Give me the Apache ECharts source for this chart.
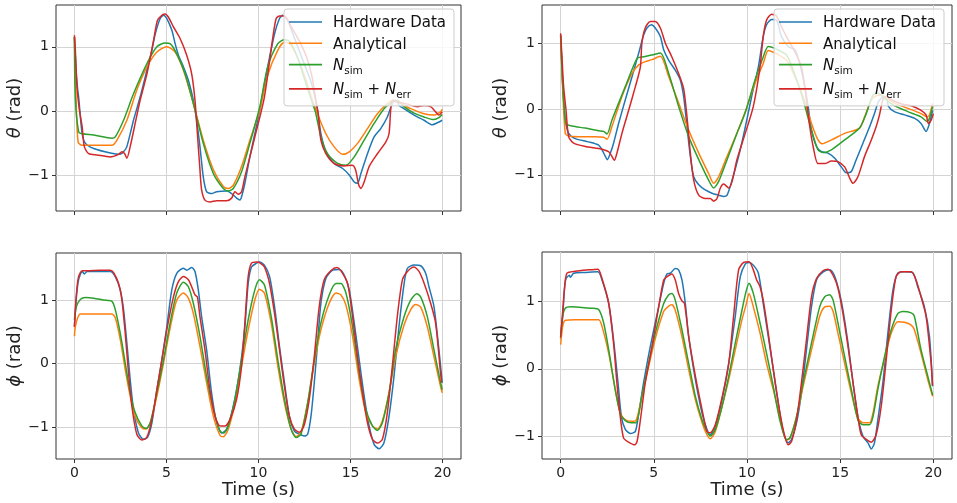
<!DOCTYPE html>
<html>
<head>
<meta charset="utf-8">
<script src="https://cdn.jsdelivr.net/npm/echarts@6/dist/echarts.min.js"></script>
<style>
html,body{margin:0;padding:0;background:#fff;}
#chart{width:957px;height:503px;}
</style>
</head>
<body>
<div id="chart"></div>
<script>
// ---- Data (time in s, angle in rad) ----
const seriesNames = ['Hardware Data', 'Analytical', 'N_sim', 'N_sim + N_err'];
const xTicks = [0, 5, 10, 15, 20];
const yTicks = [-1, 0, 1];

// Top-left: theta
const tlHw = [[0,1.15],[0.1,0.6],[0.18,0.33],[0.23,0.22],[0.42,-0.35],[0.6,-0.5],[1.05,-0.58],[1.95,-0.65],[2.49,-0.67],[2.67,-0.63],[2.85,-0.55],[3.21,-0.14],[3.57,0.22],[3.94,0.64],[4.21,0.95],[4.39,1.2],[4.66,1.44],[4.84,1.49],[5.02,1.44],[5.29,1.26],[5.47,1.05],[5.65,0.87],[5.92,0.69],[6.19,0.48],[6.46,0.17],[6.64,-0.14],[6.82,-0.55],[7.0,-1.02],[7.18,-1.25],[7.45,-1.28],[7.73,-1.25],[8.27,-1.24],[8.54,-1.28],[8.81,-1.35],[8.99,-1.38],[9.08,-1.33],[9.26,-1.12],[9.53,-0.71],[9.8,-0.35],[10.07,0.02],[10.5,0.69],[10.87,1.2],[11.14,1.44],[11.32,1.49],[11.6,1.4],[12.0,1.1],[12.4,0.8],[12.8,0.5],[13.0,0.3],[13.2,0.02],[13.39,-0.35],[13.66,-0.63],[14.1,-0.81],[14.57,-0.89],[14.93,-0.99],[15.2,-1.1],[15.38,-1.12],[15.56,-0.97],[15.92,-0.66],[16.28,-0.4],[16.64,-0.27],[17.0,-0.09],[17.27,0.12],[17.45,0.17],[17.64,0.09],[17.9,0.04],[18.45,-0.06],[18.99,-0.14],[19.44,-0.21],[19.71,-0.18],[19.98,-0.14]];
const tlAn = [[0,1.15],[0.08,0.3],[0.2,-0.48],[0.42,-0.53],[1.05,-0.53],[2.04,-0.53],[2.31,-0.45],[2.85,-0.14],[3.39,0.33],[3.94,0.69],[4.48,0.92],[5.02,1.0],[5.47,0.92],[5.92,0.64],[6.46,0.12],[7.0,-0.45],[7.55,-0.91],[8.09,-1.17],[8.36,-1.2],[8.63,-1.15],[9.08,-0.86],[9.53,-0.45],[10.07,0.02],[10.5,0.56],[11.05,0.95],[11.41,1.07],[11.7,1.05],[12.1,0.85],[12.5,0.55],[12.9,0.2],[13.2,-0.04],[13.66,-0.35],[14.1,-0.55],[14.57,-0.67],[14.93,-0.63],[15.38,-0.5],[15.92,-0.27],[16.46,-0.04],[17.0,0.12],[17.36,0.17],[17.72,0.12],[18.27,0.04],[18.99,-0.04],[19.53,-0.06],[19.89,-0.01],[19.98,0.03]];
const tlNs = [[0,1.15],[0.05,0.2],[0.23,-0.32],[0.42,-0.35],[1.05,-0.37],[2.04,-0.42],[2.22,-0.4],[2.67,-0.14],[3.21,0.27],[3.94,0.74],[4.48,1.0],[4.93,1.06],[5.2,1.05],[5.56,0.89],[6.01,0.58],[6.46,0.12],[7.0,-0.5],[7.55,-0.97],[8.09,-1.2],[8.36,-1.24],[8.63,-1.2],[9.08,-0.94],[9.53,-0.5],[10.07,0.07],[10.5,0.69],[11.05,1.05],[11.41,1.11],[11.7,1.08],[12.1,0.85],[12.5,0.5],[12.9,0.15],[13.1,-0.02],[13.39,-0.4],[13.75,-0.66],[14.3,-0.81],[14.75,-0.84],[15.2,-0.71],[15.74,-0.45],[16.28,-0.19],[16.82,0.04],[17.27,0.14],[17.54,0.17],[17.9,0.07],[18.45,-0.03],[18.99,-0.09],[19.53,-0.13],[19.8,-0.1],[19.98,-0.05]];
const tlNe = [[0,1.18],[0.05,0.95],[0.14,0.38],[0.27,0.02],[0.42,-0.24],[0.54,-0.55],[0.78,-0.66],[1.23,-0.68],[1.95,-0.71],[2.4,-0.67],[2.58,-0.63],[2.73,-0.66],[2.85,-0.73],[3.03,-0.55],[3.3,-0.19],[3.57,0.17],[3.94,0.58],[4.3,1.1],[4.51,1.41],[4.75,1.49],[4.93,1.51],[5.11,1.46],[5.38,1.31],[5.74,1.13],[6.1,0.87],[6.37,0.58],[6.55,0.17],[6.68,-0.35],[6.82,-0.91],[6.91,-1.22],[7.09,-1.38],[7.36,-1.41],[7.73,-1.39],[8.27,-1.39],[8.54,-1.35],[8.72,-1.25],[8.9,-1.29],[9.08,-1.25],[9.26,-1.02],[9.53,-0.71],[9.8,-0.4],[10.32,0.22],[10.78,1.15],[10.96,1.44],[11.14,1.48],[11.41,1.48],[11.8,1.3],[12.2,1.1],[12.6,0.85],[12.9,0.55],[13.1,0.2],[13.25,-0.05],[13.39,-0.45],[13.66,-0.66],[14.1,-0.81],[14.64,-0.85],[15.09,-0.84],[15.27,-0.91],[15.45,-1.15],[15.56,-1.2],[15.74,-1.1],[16.01,-0.86],[16.46,-0.66],[16.91,-0.48],[17.09,-0.35],[17.18,0.02],[17.27,0.17],[17.54,0.14],[18.08,0.11],[18.63,0.07],[18.99,0.09],[19.35,0.07],[19.62,-0.01],[19.8,-0.06],[19.98,-0.01]];

// Top-right: theta
const trHw = [[0,1.12],[0.11,0.39],[0.16,0.14],[0.25,-0.17],[0.43,-0.37],[0.79,-0.45],[1.5,-0.5],[2.04,-0.55],[2.22,-0.62],[2.4,-0.72],[2.5,-0.77],[2.67,-0.67],[2.84,-0.52],[3.11,-0.22],[3.47,0.14],[3.83,0.49],[4.19,0.85],[4.45,1.12],[4.63,1.23],[4.87,1.28],[5.08,1.23],[5.35,1.1],[5.53,0.9],[5.8,0.74],[6.15,0.59],[6.42,0.44],[6.6,0.19],[6.78,-0.27],[6.96,-0.72],[7.14,-1.03],[7.41,-1.15],[7.76,-1.23],[8.12,-1.28],[8.48,-1.31],[8.75,-1.33],[8.93,-1.31],[9.2,-1.08],[9.55,-0.72],[9.89,-0.3],[10.25,0.19],[10.61,0.64],[10.87,1.1],[11.05,1.28],[11.32,1.36],[11.59,1.35],[11.85,1.1],[12.21,0.95],[12.57,0.9],[12.83,0.69],[13.1,0.34],[13.28,0.04],[13.46,-0.32],[13.73,-0.57],[14.0,-0.65],[14.35,-0.67],[14.71,-0.75],[15.06,-0.88],[15.33,-0.97],[15.6,-0.95],[15.86,-0.77],[16.22,-0.52],[16.58,-0.27],[16.84,-0.07],[17.02,0.09],[17.2,0.16],[17.47,0.19],[17.59,0.04],[17.91,-0.04],[18.45,-0.09],[18.98,-0.14],[19.34,-0.22],[19.61,-0.34],[19.79,-0.22],[19.96,-0.02]];
const trAn = [[0,1.1],[0.11,0.3],[0.25,-0.37],[0.43,-0.41],[0.97,-0.42],[1.86,-0.42],[2.31,-0.43],[2.49,-0.46],[2.75,-0.27],[3.29,0.19],[3.83,0.54],[4.19,0.67],[4.54,0.72],[4.9,0.75],[5.35,0.8],[5.8,0.49],[6.33,0.09],[6.87,-0.32],[7.41,-0.67],[7.94,-0.98],[8.21,-1.13],[8.48,-1.03],[8.93,-0.72],[9.46,-0.37],[9.91,-0.04],[10.43,0.39],[10.87,0.69],[11.14,0.89],[11.5,0.85],[12.12,0.74],[12.57,0.49],[13.01,0.19],[13.46,-0.22],[13.81,-0.47],[14.03,-0.53],[14.53,-0.47],[15.24,-0.37],[16.04,-0.29],[16.31,-0.12],[16.67,0.14],[17.02,0.21],[17.38,0.19],[17.91,0.09],[18.63,0.01],[19.34,-0.07],[19.66,-0.12],[19.79,-0.09],[19.96,0.09]];
const trNs = [[0,1.12],[0.07,0.6],[0.16,0.14],[0.29,-0.22],[0.61,-0.26],[1.32,-0.29],[2.04,-0.33],[2.31,-0.34],[2.49,-0.38],[2.75,-0.17],[3.47,0.34],[4.1,0.77],[4.36,0.79],[4.9,0.82],[5.35,0.85],[5.8,0.54],[6.33,0.04],[6.87,-0.42],[7.41,-0.77],[7.94,-1.08],[8.21,-1.2],[8.48,-1.1],[8.93,-0.77],[9.46,-0.37],[9.91,-0.05],[10.43,0.44],[10.87,0.79],[11.14,0.95],[11.5,0.92],[12.12,0.82],[12.57,0.52],[13.01,0.14],[13.46,-0.32],[13.81,-0.62],[14.09,-0.66],[14.53,-0.62],[15.24,-0.47],[16.04,-0.29],[16.4,-0.07],[16.76,0.21],[17.02,0.24],[17.38,0.16],[17.91,0.05],[18.63,-0.04],[19.34,-0.12],[19.66,-0.19],[19.79,-0.14],[19.96,0.04]];
const trNe = [[0,1.15],[0.07,0.8],[0.16,0.34],[0.29,-0.02],[0.43,-0.42],[0.7,-0.52],[1.32,-0.57],[2.04,-0.6],[2.31,-0.62],[2.58,-0.65],[2.75,-0.72],[2.88,-0.78],[3.02,-0.67],[3.29,-0.37],[3.65,-0.02],[4.01,0.34],[4.28,0.64],[4.36,1.0],[4.54,1.23],[4.81,1.33],[5.08,1.33],[5.35,1.23],[5.62,1.0],[5.97,0.79],[6.33,0.54],[6.6,0.31],[6.78,-0.12],[6.96,-0.67],[7.14,-1.08],[7.41,-1.31],[7.76,-1.36],[8.03,-1.36],[8.21,-1.4],[8.39,-1.36],[8.57,-1.2],[8.75,-1.14],[9.02,-1.2],[9.2,-1.1],[9.46,-0.77],[9.85,-0.42],[10.34,0.04],[10.7,0.64],[10.87,1.1],[11.05,1.35],[11.32,1.44],[11.59,1.41],[11.85,1.25],[12.21,1.05],[12.57,0.87],[12.92,0.64],[13.1,0.34],[13.37,-0.27],[13.55,-0.57],[13.81,-0.83],[14.17,-0.83],[14.53,-0.79],[14.88,-0.8],[15.24,-0.88],[15.51,-1.05],[15.69,-1.13],[15.95,-1.03],[16.31,-0.72],[16.67,-0.47],[16.93,-0.27],[17.11,-0.09],[17.29,0.14],[17.47,0.19],[17.74,0.14],[18.27,0.08],[18.81,0.05],[19.34,-0.02],[19.61,-0.09],[19.73,-0.22],[19.88,-0.17],[20.0,-0.07]];

// Bottom-left: phi
const blHw = [[0,0.58],[0.11,1.05],[0.23,1.32],[0.42,1.45],[0.54,1.41],[0.69,1.45],[1.41,1.45],[1.95,1.45],[2.22,1.37],[2.49,1.16],[2.67,0.85],[2.85,0.32],[3.03,-0.25],[3.21,-0.72],[3.48,-1.09],[3.75,-1.19],[3.97,-1.16],[4.21,-0.93],[4.48,-0.41],[4.75,0.06],[5.02,0.58],[5.29,1.16],[5.56,1.42],[5.92,1.5],[6.1,1.47],[6.37,1.51],[6.55,1.45],[6.73,1.16],[6.91,0.74],[7.18,0.22],[7.45,-0.46],[7.73,-0.93],[8.0,-1.09],[8.27,-1.03],[8.63,-0.67],[8.99,-0.09],[9.26,0.58],[9.44,1.26],[9.62,1.52],[9.89,1.58],[10.05,1.6],[10.32,1.55],[10.6,1.37],[10.87,0.9],[11.14,0.27],[11.41,-0.3],[11.68,-0.83],[11.95,-1.06],[12.22,-1.11],[12.49,-1.14],[12.67,-1.11],[12.85,-0.83],[13.03,-0.3],[13.21,0.32],[13.39,0.95],[13.66,1.34],[14.03,1.47],[14.39,1.48],[14.66,1.39],[14.93,1.16],[15.2,0.64],[15.47,0.06],[15.74,-0.51],[16.01,-0.98],[16.28,-1.27],[16.55,-1.34],[16.82,-1.24],[17.09,-0.83],[17.36,-0.2],[17.63,0.58],[17.91,1.26],[18.09,1.5],[18.45,1.55],[18.81,1.54],[19.08,1.42],[19.26,1.21],[19.53,0.9],[19.8,0.22],[19.98,-0.3]];
const blAn = [[0,0.43],[0.05,0.58],[0.18,0.72],[0.32,0.78],[1.05,0.78],[2.04,0.78],[2.22,0.72],[2.49,0.38],[2.76,-0.09],[3.03,-0.51],[3.3,-0.83],[3.66,-1.01],[3.9,-1.03],[4.12,-0.93],[4.48,-0.51],[4.84,0.01],[5.2,0.56],[5.56,1.0],[5.92,1.11],[6.19,1.03],[6.46,0.79],[6.82,0.27],[7.18,-0.3],[7.55,-0.83],[7.91,-1.13],[8.09,-1.15],[8.36,-1.03],[8.72,-0.62],[9.08,-0.04],[9.44,0.53],[9.8,1.0],[10.05,1.17],[10.32,1.11],[10.69,0.64],[11.05,-0.04],[11.41,-0.62],[11.77,-1.03],[12.04,-1.15],[12.31,-1.08],[12.67,-0.62],[13.03,0.01],[13.39,0.53],[13.84,0.95],[14.21,1.11],[14.48,1.08],[14.75,0.92],[15.11,0.43],[15.47,-0.25],[15.83,-0.77],[16.19,-0.98],[16.46,-1.03],[16.73,-0.9],[17.09,-0.46],[17.45,0.11],[17.91,0.61],[18.27,0.85],[18.54,0.93],[18.81,0.89],[19.17,0.58],[19.53,0.11],[19.89,-0.36],[19.98,-0.46]];
const blNs = [[0,0.69],[0.11,0.9],[0.32,1.01],[0.6,1.04],[1.05,1.03],[1.59,1.0],[2.04,0.98],[2.22,0.85],[2.49,0.48],[2.76,0.01],[3.03,-0.46],[3.3,-0.77],[3.66,-0.98],[3.9,-1.02],[4.12,-0.93],[4.48,-0.46],[4.84,0.06],[5.2,0.64],[5.56,1.11],[5.92,1.28],[6.19,1.21],[6.46,0.95],[6.82,0.43],[7.18,-0.2],[7.55,-0.72],[7.91,-1.06],[8.12,-1.09],[8.36,-0.98],[8.72,-0.56],[9.08,0.06],[9.44,0.69],[9.8,1.16],[10.05,1.32],[10.32,1.24],[10.69,0.74],[11.05,0.06],[11.41,-0.56],[11.77,-1.03],[12.04,-1.16],[12.31,-1.11],[12.67,-0.62],[13.03,0.06],[13.39,0.64],[13.84,1.08],[14.21,1.26],[14.48,1.26],[14.75,1.11],[15.11,0.58],[15.47,-0.15],[15.83,-0.72],[16.19,-0.98],[16.46,-1.05],[16.73,-0.93],[17.09,-0.46],[17.45,0.22],[17.91,0.74],[18.27,1.0],[18.6,1.1],[18.81,1.05],[19.17,0.74],[19.53,0.22],[19.89,-0.3],[19.98,-0.41]];
const blNe = [[0,0.58],[0.11,1.1],[0.23,1.37],[0.42,1.46],[0.69,1.46],[1.41,1.47],[1.95,1.47],[2.13,1.43],[2.4,1.26],[2.58,1.0],[2.76,0.48],[2.94,-0.15],[3.12,-0.67],[3.39,-1.11],[3.66,-1.2],[3.93,-1.16],[4.21,-0.88],[4.48,-0.41],[4.75,0.06],[5.02,0.53],[5.38,1.05],[5.65,1.29],[5.92,1.37],[6.19,1.32],[6.37,1.21],[6.55,1.08],[6.68,1.05],[6.82,0.74],[7.09,0.22],[7.36,-0.41],[7.64,-0.83],[7.91,-0.98],[8.18,-0.98],[8.45,-0.88],[8.81,-0.56],[9.08,-0.04],[9.26,0.64],[9.44,1.37],[9.62,1.58],[9.89,1.6],[10.05,1.59],[10.32,1.52],[10.6,1.26],[10.87,0.79],[11.14,0.22],[11.41,-0.36],[11.68,-0.83],[11.95,-1.03],[12.22,-1.08],[12.49,-0.96],[12.76,-0.56],[13.03,0.11],[13.3,0.9],[13.57,1.32],[13.93,1.46],[14.26,1.51],[14.48,1.46],[14.84,1.26],[15.11,0.74],[15.38,0.11],[15.65,-0.46],[15.92,-0.93],[16.19,-1.19],[16.46,-1.25],[16.73,-1.19],[17.0,-0.77],[17.27,-0.04],[17.54,0.74],[17.82,1.32],[18.09,1.45],[18.45,1.52],[18.72,1.45],[19.0,1.26],[19.35,0.95],[19.62,0.64],[19.89,-0.15],[19.95,-0.3]];

// Bottom-right: phi
const brHw = [[0,0.45],[0.11,0.78],[0.21,1.2],[0.29,1.34],[0.47,1.39],[0.52,1.36],[0.7,1.42],[1.32,1.43],[2.0,1.44],[2.22,1.32],[2.58,0.97],[2.84,0.43],[3.08,-0.21],[3.26,-0.71],[3.47,-0.9],[3.74,-0.96],[4.01,-0.93],[4.19,-0.66],[4.45,-0.21],[4.81,0.33],[5.26,0.92],[5.53,1.27],[5.71,1.41],[5.89,1.42],[6.15,1.49],[6.33,1.47],[6.51,1.32],[6.69,0.97],[6.87,0.48],[7.23,-0.16],[7.59,-0.66],[7.85,-0.9],[8.03,-0.98],[8.3,-0.85],[8.66,-0.46],[9.02,0.08],[9.37,0.78],[9.64,1.37],[9.91,1.56],[10.11,1.58],[10.34,1.54],[10.61,1.42],[10.87,0.97],[11.14,0.48],[11.41,-0.01],[11.68,-0.51],[11.94,-0.93],[12.21,-1.1],[12.39,-1.05],[12.66,-0.8],[12.92,-0.36],[13.19,0.28],[13.46,0.92],[13.73,1.32],[14.09,1.44],[14.44,1.47],[14.71,1.37],[14.97,1.12],[15.15,0.87],[15.42,0.38],[15.69,-0.21],[15.95,-0.71],[16.22,-1.0],[16.49,-1.1],[16.67,-1.19],[16.84,-1.1],[17.02,-0.76],[17.29,-0.21],[17.56,0.53],[17.83,1.17],[18.09,1.42],[18.45,1.44],[18.89,1.43],[19.16,1.22],[19.52,0.92],[19.79,0.48],[19.96,-0.26]];
const brAn = [[0,0.36],[0.11,0.63],[0.25,0.72],[0.79,0.73],[2.04,0.73],[2.22,0.63],[2.58,0.23],[2.93,-0.31],[3.2,-0.66],[3.47,-0.76],[3.79,-0.78],[4.04,-0.77],[4.36,-0.41],[4.72,0.03],[5.08,0.45],[5.53,0.85],[5.8,0.93],[5.97,0.95],[6.15,0.87],[6.51,0.48],[6.87,-0.01],[7.23,-0.46],[7.59,-0.8],[7.85,-0.98],[8.03,-1.04],[8.3,-0.93],[8.66,-0.56],[9.02,-0.16],[9.37,0.28],[9.73,0.73],[9.95,0.95],[10.11,1.12],[10.34,0.92],[10.7,0.53],[11.05,0.08],[11.41,-0.31],[11.76,-0.71],[12.12,-1.06],[12.3,-1.03],[12.66,-0.71],[13.01,-0.26],[13.46,0.28],[13.9,0.78],[14.17,0.92],[14.44,0.93],[14.62,0.85],[14.88,0.53],[15.24,0.08],[15.6,-0.36],[15.95,-0.73],[16.22,-0.8],[16.58,-0.8],[16.76,-0.66],[17.02,-0.26],[17.38,0.15],[17.74,0.53],[18.09,0.7],[18.45,0.69],[18.81,0.65],[18.98,0.58],[19.34,0.23],[19.7,-0.16],[19.96,-0.41]];
const brNs = [[0,0.48],[0.11,0.78],[0.25,0.9],[0.52,0.92],[1.14,0.91],[1.68,0.9],[2.04,0.88],[2.31,0.68],[2.58,0.28],[2.93,-0.31],[3.2,-0.66],[3.47,-0.77],[3.79,-0.8],[4.04,-0.8],[4.36,-0.41],[4.72,0.08],[5.08,0.53],[5.53,0.97],[5.8,1.1],[5.97,1.12],[6.15,1.02],[6.51,0.58],[6.87,0.08],[7.23,-0.41],[7.59,-0.76],[7.85,-0.93],[8.03,-1.0],[8.3,-0.9],[8.66,-0.56],[9.02,-0.11],[9.37,0.38],[9.73,0.87],[9.95,1.15],[10.11,1.27],[10.34,1.12],[10.7,0.68],[11.05,0.23],[11.41,-0.26],[11.76,-0.76],[12.12,-1.05],[12.3,-1.03],[12.66,-0.71],[13.01,-0.21],[13.46,0.38],[13.9,0.92],[14.17,1.07],[14.44,1.1],[14.62,1.02],[14.88,0.68],[15.24,0.18],[15.6,-0.31],[15.95,-0.76],[16.22,-0.83],[16.58,-0.83],[16.76,-0.71],[17.02,-0.31],[17.38,0.18],[17.74,0.58],[18.09,0.82],[18.36,0.85],[18.81,0.83],[18.98,0.78],[19.34,0.28],[19.7,-0.11],[19.96,-0.39]];
const brNe = [[0,0.47],[0.11,0.85],[0.21,1.2],[0.34,1.42],[0.79,1.45],[1.5,1.47],[2.0,1.48],[2.22,1.34],[2.58,0.97],[2.84,0.38],[3.02,-0.21],[3.2,-0.71],[3.38,-1.03],[3.65,-1.09],[3.97,-1.13],[4.1,-1.08],[4.28,-0.76],[4.54,-0.21],[4.9,0.33],[5.26,0.92],[5.53,1.32],[5.71,1.37],[5.97,1.41],[6.15,1.32],[6.33,1.12],[6.51,1.01],[6.65,0.97],[6.87,0.48],[7.23,-0.11],[7.59,-0.61],[7.85,-0.93],[8.03,-0.95],[8.3,-0.83],[8.66,-0.43],[9.02,0.08],[9.28,0.78],[9.55,1.47],[9.82,1.58],[10.11,1.59],[10.34,1.47],[10.52,1.32],[10.7,1.22],[10.87,1.02],[11.14,0.53],[11.41,-0.01],[11.68,-0.51],[11.94,-0.9],[12.21,-1.13],[12.39,-1.08],[12.66,-0.76],[12.92,-0.21],[13.19,0.43],[13.46,1.07],[13.73,1.34],[14.09,1.46],[14.35,1.48],[14.62,1.39],[14.88,1.2],[15.15,0.82],[15.42,0.33],[15.69,-0.21],[15.95,-0.71],[16.13,-0.98],[16.4,-1.05],[16.67,-1.09],[16.93,-0.98],[17.2,-0.56],[17.47,0.13],[17.74,0.87],[18.0,1.37],[18.27,1.44],[18.81,1.44],[19.07,1.32],[19.34,1.07],[19.61,0.78],[19.88,0.08],[19.95,-0.25]];

// ---- Layout / style ----
const FONT = 'DejaVu Sans';
const colors = ['#1f77b4', '#ff7f0e', '#2ca02c', '#d62728'];
const panels = [
  { left: 56,  top: 5,   width: 405, height: 206, yMin: -1.55, yMax: 1.65, yName: '{i|θ} (rad)', xLabels: false, data: [tlHw, tlAn, tlNs, tlNe] },
  { left: 542, top: 5,   width: 410, height: 206, yMin: -1.55, yMax: 1.58, yName: '{i|θ} (rad)', xLabels: false, data: [trHw, trAn, trNs, trNe] },
  { left: 56,  top: 253, width: 405, height: 206, yMin: -1.5,  yMax: 1.74, yName: '{i|ϕ} (rad)', xLabels: true,  data: [blHw, blAn, blNs, blNe] },
  { left: 542, top: 252, width: 410, height: 207, yMin: -1.34, yMax: 1.735, yName: '{i|ϕ} (rad)', xLabels: true, data: [brHw, brAn, brNs, brNe] }
];

const fmtY = v => (v < 0 ? '\u2212' + Math.abs(v) : String(v));

const grid = [], xAxis = [], yAxis = [], series = [];
panels.forEach((p, i) => {
  grid.push({ left: p.left, top: p.top, width: p.width, height: p.height, show: true,
    borderColor: '#333333', borderWidth: 1, backgroundColor: 'transparent', containLabel: false });
  xAxis.push({
    type: 'value', gridIndex: i, min: -1, max: 21,
    axisLine: { show: false, onZero: false },
    axisTick: { show: true, inside: false, length: 4, customValues: xTicks, lineStyle: { color: '#333333' } },
    axisLabel: { show: p.xLabels, customValues: xTicks, margin: 7, fontFamily: FONT, fontSize: 14, color: '#222' },
    splitLine: { show: true, lineStyle: { color: '#d4d4d4', width: 1 } },
    name: p.xLabels ? 'Time (s)' : '', nameLocation: 'middle', nameGap: 21,
    nameTextStyle: { fontFamily: FONT, fontSize: 18, color: '#222' }
  });
  yAxis.push({
    type: 'value', gridIndex: i, min: p.yMin, max: p.yMax,
    axisLine: { show: false, onZero: false },
    axisTick: { show: true, inside: false, length: 4, customValues: yTicks, lineStyle: { color: '#333333' } },
    axisLabel: { show: true, customValues: yTicks, margin: 7, fontFamily: FONT, fontSize: 14, color: '#222', formatter: fmtY },
    splitLine: { show: true, lineStyle: { color: '#d4d4d4', width: 1 } },
    name: p.yName, nameLocation: 'middle', nameGap: 30, nameRotate: 90,
    nameTextStyle: { fontFamily: FONT, fontSize: 18, color: '#222',
      rich: { i: { fontFamily: FONT, fontStyle: 'italic', fontSize: 18, color: '#222' } } }
  });
  p.data.forEach((d, k) => {
    series.push({
      type: 'line', name: seriesNames[k], xAxisIndex: i, yAxisIndex: i, data: d,
      symbol: 'none', showSymbol: false, smooth: 0.25,
      lineStyle: { color: colors[k], width: 1.5 }, itemStyle: { color: colors[k] },
      emphasis: { disabled: true }, animation: false, clip: true, z: 2 + k * 0.01
    });
  });
});

const legendFormatter = name => {
  if (name === 'N_sim') return '{n|N}{s|sim}';
  if (name === 'N_sim + N_err') return '{n|N}{s|sim}{p| + }{n|N}{s|err}';
  return '{p|' + name + '}';
};
const legendRich = {
  p: { fontFamily: FONT, fontSize: 15, color: '#111', lineHeight: 18, verticalAlign: 'bottom' },
  n: { fontFamily: FONT, fontStyle: 'italic', fontSize: 15, color: '#111', lineHeight: 18, verticalAlign: 'bottom' },
  s: { fontFamily: FONT, fontSize: 10.5, color: '#111', lineHeight: 11, verticalAlign: 'bottom', padding: [0, 0, -3, 0] }
};
const makeLegend = (left) => ({
  data: seriesNames, orient: 'vertical', left: left, top: 9,
  icon: 'rect', itemWidth: 33, itemHeight: 1.6, itemGap: 6.3,
  padding: [7, 8, 5, 5],
  backgroundColor: 'rgba(255,255,255,0.8)', borderColor: '#cccccc', borderWidth: 1, borderRadius: 3,
  selectedMode: false, formatter: legendFormatter,
  textStyle: { fontFamily: FONT, fontSize: 15, color: '#111', padding: [0, 0, 0, 6], rich: legendRich },
  z: 10
});

const chart = echarts.init(document.getElementById('chart'), null, { renderer: 'canvas' });
chart.setOption({
  animation: false,
  backgroundColor: '#ffffff',
  grid, xAxis, yAxis, series,
  legend: [makeLegend(284), makeLegend(774)]
});
</script>
</body>
</html>
